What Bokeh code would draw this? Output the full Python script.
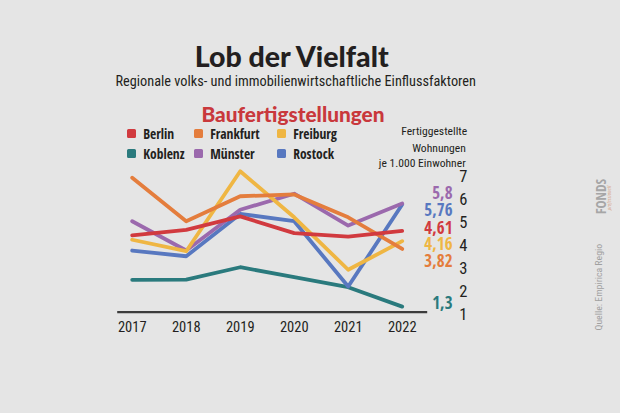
import math
from bokeh.plotting import figure
from bokeh.models import Range1d, Label
from bokeh.embed import file_html
from bokeh.resources import INLINE
from bokeh.core.properties import value

# ---------------- data ----------------
years = [2017, 2018, 2019, 2020, 2021, 2022]
cities = ["Berlin", "Frankfurt", "Freiburg", "Koblenz", "Münster", "Rostock"]
berlin = [4.41, 4.65, 5.24, 4.51, 4.36, 4.61]
frankfurt = [6.93, 5.03, 6.12, 6.20, 5.20, 3.82]
freiburg = [4.22, 3.72, 7.21, 5.20, 2.91, 4.16]
koblenz = [2.47, 2.48, 3.02, 2.59, 2.15, 1.3]
muenster = [5.03, 3.75, 5.53, 6.23, 4.84, 5.8]
rostock = [3.75, 3.50, 5.35, 5.03, 2.18, 5.76]
y_ticks = [1, 2, 3, 4, 5, 6, 7]

# ---------------- style ----------------
BG = "#e5e5e5"
DARK = "#231f20"
COLORS = {
    "Berlin": "#d13a3f",
    "Frankfurt": "#e47d3d",
    "Freiburg": "#efb643",
    "Koblenz": "#2a7a7d",
    "Münster": "#9b69ad",
    "Rostock": "#5878c0",
}
COND_BOLD = "Open Sans Condensed"   # bold condensed face
COND_LIGHT = "Open Sans"            # condensed through page font-stretch
COND_REG = "Roboto"                 # condensed through page font-stretch
HEAVY = "Lato Black, Lato"          # not affected by font-stretch

W, H = 612, 397
PX_YEAR = 54.0
PX_UNIT = 22.9
X0 = 2017 - 131.7 / PX_YEAR
Y0 = 1 - (H - 313) / PX_UNIT


def dx(page_x):
    return X0 + page_x / PX_YEAR


def dy(page_y):
    return Y0 + (H - page_y) / PX_UNIT


p = figure(width=W, height=H,
           x_range=Range1d(X0, X0 + W / PX_YEAR),
           y_range=Range1d(Y0, Y0 + H / PX_UNIT),
           output_backend="svg", toolbar_location=None,
           x_axis_type=None, y_axis_type=None, min_border=0,
           background_fill_color=BG, border_fill_color=BG,
           outline_line_color=None)


def label(text, px, py, size, font=COND_REG, style="normal", color=DARK,
          align="center", baseline="middle", angle=0.0):
    p.add_layout(Label(x=px, y=H - py, x_units="screen", y_units="screen",
                       text=text, text_font=font, text_font_size=f"{size}px",
                       text_font_style=style, text_color=color,
                       text_align=align, text_baseline=baseline, angle=angle))


# titles
label("Lob der Vielfalt", 292, 55.5, 28.5, font=HEAVY, style="bold", baseline="alphabetic")
label("Regionale volks- und immobilienwirtschaftliche Einflussfaktoren", 115, 80, 14.3,
      font=COND_REG, align="left", baseline="alphabetic")
label("Baufertigstellungen", 292.5, 112.5, 20.8, font=HEAVY, style="bold", color="#c9383c",
      baseline="alphabetic")

# unit caption
label("Fertiggestellte", 400.7, 130, 11.6, align="left", baseline="alphabetic")
label("Wohnungen", 411.7, 147, 11.6, align="left", baseline="alphabetic")
label("je 1.000 Einwohner", 378.3, 162.5, 11.6, align="left", baseline="alphabetic")

# baseline (x axis line)
p.segment(x0=[dx(116.7)], y0=[dy(311.7)], x1=[dx(426.7)], y1=[dy(311.7)],
          line_color="#3c3c3c", line_width=2.2)

# lines
series = {"Berlin": berlin, "Frankfurt": frankfurt, "Freiburg": freiburg,
          "Koblenz": koblenz, "Münster": muenster, "Rostock": rostock}
order = ["Koblenz", "Rostock", "Münster", "Freiburg", "Frankfurt", "Berlin"]
for name in order:
    p.line(years, series[name], line_color=COLORS[name], line_width=3.8,
           line_join="round", line_cap="round")

# x tick labels
p.text(x=years, y=[dy(326)] * len(years), text=[str(y) for y in years],
       text_font=value(COND_REG), text_font_size="14.5px", text_color=DARK,
       text_align="center", text_baseline="middle", x_offset=2)

# y tick labels (right)
p.text(x=[dx(462.7)] * len(y_ticks), y=y_ticks, text=[str(t) for t in y_ticks],
       text_font=value(COND_REG), text_font_size="16.5px", text_color=DARK,
       text_align="center", text_baseline="middle", x_offset=0.6)

# end value labels
end_order = ["Münster", "Rostock", "Berlin", "Freiburg", "Frankfurt", "Koblenz"]
end_y = [191.7, 209.3, 226.7, 243.3, 260.0, 301.7]
for name, py in zip(end_order, end_y):
    v = series[name][-1]
    txt = f"{v:g}".replace(".", ",")
    label(txt, 452, py, 17, font=COND_BOLD, style="bold", color=COLORS[name], align="right")

# legend
leg_x = [131, 198, 281]
leg_y = [133, 153]
legend_order = ["Berlin", "Frankfurt", "Freiburg", "Koblenz", "Münster", "Rostock"]
for i, name in enumerate(legend_order):
    cx = leg_x[i % 3]
    cy = leg_y[i // 3]
    p.scatter(x=[dx(cx)], y=[dy(cy)], marker="square", size=6,
              fill_color=COLORS[name], line_color=COLORS[name], line_width=3,
              line_join="round")
    label(name, cx + 11.7, cy, 13.5, font=COND_BOLD, style="bold", align="left")

# source and logo
label("Quelle: Empirica Regio", 598, 330, 9.8, color="#a0a0a0", align="left",
      angle=math.pi / 2)
label("FONDS", 600, 196, 13.5, font=COND_BOLD, style="bold", color="#a6a6a6",
      angle=math.pi / 2)
label("professionell", 608, 193, 6, font=COND_LIGHT, style="italic", color="#d8a98f",
      angle=math.pi / 2)

html = file_html(p, INLINE)
html = html.replace(
    "</head>",
    "<style>html, body {background-color: #e5e5e5; font-stretch: condensed;}</style></head>", 1)
open("out.html", "w").write(html)
